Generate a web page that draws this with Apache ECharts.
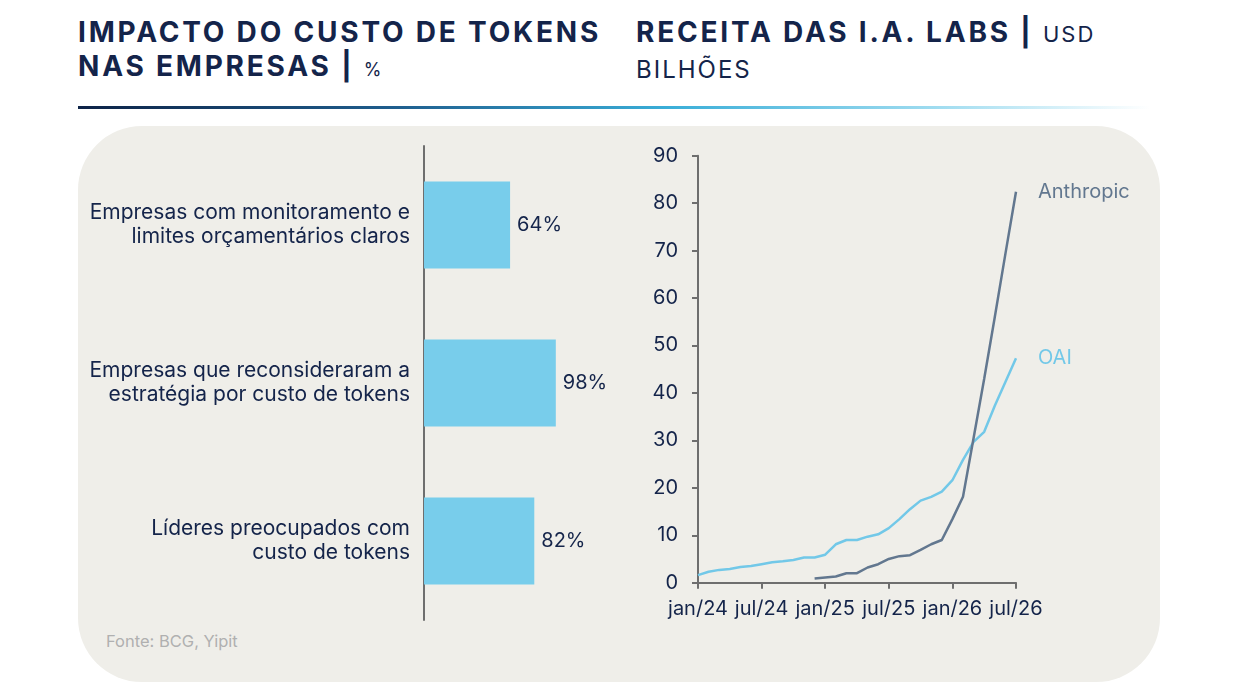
<!DOCTYPE html>
<html>
<head>
<meta charset="utf-8">
<script src="https://cdn.jsdelivr.net/npm/echarts@6/dist/echarts.min.js"></script>
<style>
  html, body { margin: 0; padding: 0; background: #ffffff; }
  body { width: 1240px; height: 685px; position: relative; overflow: hidden; font-family: Inter, 'Noto Sans', sans-serif; }
  .title { position: absolute; top: 15px; color: #14244a; font-size: 28px; line-height: 34px; font-weight: 700; letter-spacing: 2.8px; white-space: nowrap; }
  .title .pct { font-weight: 400; font-size: 18px; letter-spacing: 0; }
  .title .usd { font-weight: 400; font-size: 22px; letter-spacing: 2px; }
  .title .bil { font-weight: 400; font-size: 24px; letter-spacing: 2px; }
  .rule { position: absolute; left: 78px; top: 106px; width: 1072px; height: 3px;
          background: linear-gradient(to right, #0d2347 0%, #1f5f8f 30%, #3aaed8 55%, #9fdcf0 80%, rgba(255,255,255,0) 100%); }
  .panel { position: absolute; left: 78px; top: 126px; width: 1082px; height: 556px; background: #efeee9; border-radius: 64px; }
  .source { position: absolute; left: 106px; top: 631px; color: #b0b0b0; font-size: 16.5px; }
  #chart { position: absolute; left: 0; top: 0; width: 1240px; height: 685px; }
</style>
</head>
<body>
<div class="title" style="left:78px;">IMPACTO DO CUSTO DE TOKENS<br>NAS EMPRESAS | <span class="pct">%</span></div>
<div class="title" style="left:636px;">RECEITA DAS I.A. LABS | <span class="usd">USD</span><br><span class="bil">BILHÕES</span></div>
<div class="rule"></div>
<div class="panel"></div>
<div class="source">Fonte: BCG, Yipit</div>
<div id="chart"></div>
<script>
// gráfico de barras: impacto do custo de tokens (%)
const barCategories = [
    'Empresas com monitoramento e\nlimites orçamentários claros',
    'Empresas que reconsideraram a\nestratégia por custo de tokens',
    'Líderes preocupados com\ncusto de tokens'
];
const barValues = [64, 98, 82];

// gráfico de linhas: receita mensal (USD bilhões)
const months = [
    'jan/24', 'fev/24', 'mar/24', 'abr/24', 'mai/24', 'jun/24', 'jul/24', 'ago/24', 'set/24', 'out/24', 'nov/24', 'dez/24',
    'jan/25', 'fev/25', 'mar/25', 'abr/25', 'mai/25', 'jun/25', 'jul/25', 'ago/25', 'set/25', 'out/25', 'nov/25', 'dez/25',
    'jan/26', 'fev/26', 'mar/26', 'abr/26', 'mai/26', 'jun/26', 'jul/26'
];
const oaiValues = [
    1.6, 2.3, 2.7, 2.9, 3.3, 3.5, 3.9, 4.3, 4.5, 4.8, 5.3, 5.3,
    5.9, 8.1, 9.0, 9.0, 9.7, 10.2, 11.5, 13.4, 15.5, 17.3, 18.1, 19.2,
    21.6, 25.9, 29.7, 31.8, 37.3, 42.3, 47.3
];
const anthropicValues = [
    '-', '-', '-', '-', '-', '-', '-', '-', '-', '-', '-', 0.9,
    1.1, 1.3, 2.0, 2.0, 3.2, 3.9, 5.0, 5.6, 5.8, 6.9, 8.1, 9.0,
    13.4, 18.1, 30.5, 43.0, 56.0, 69.3, 82.4
];

const navy = '#14244a';
const axisGrey = '#6e6e6e';
const font = 'Inter';

const chart = echarts.init(document.getElementById('chart'));
chart.setOption({
    backgroundColor: 'transparent',
    animation: false,
    grid: [
        { left: 424, top: 146, width: 134.5, height: 474 },
        { left: 698, top: 155.7, width: 318, height: 427 }
    ],
    xAxis: [
        { gridIndex: 0, type: 'value', min: 0, max: 100, show: false },
        {
            gridIndex: 1, type: 'category', data: months, boundaryGap: false,
            axisLine: { lineStyle: { color: axisGrey, width: 2 } },
            axisTick: { interval: 5, length: 6, lineStyle: { color: axisGrey, width: 2 } },
            axisLabel: { interval: 5, color: navy, fontSize: 20, fontFamily: font, margin: 16 }
        }
    ],
    yAxis: [
        {
            gridIndex: 0, type: 'category', data: barCategories, inverse: true,
            axisLine: { lineStyle: { color: axisGrey, width: 2 } },
            axisTick: { show: false },
            axisLabel: { color: navy, fontSize: 21, fontFamily: font, lineHeight: 24, margin: 14, align: 'right' }
        },
        {
            gridIndex: 1, type: 'value', min: 0, max: 90, interval: 10,
            splitLine: { show: false },
            axisLine: { show: true, lineStyle: { color: axisGrey, width: 2 } },
            axisTick: { show: true, length: 6, lineStyle: { color: axisGrey, width: 2 } },
            axisLabel: { color: navy, fontSize: 20, fontFamily: font, margin: 20 }
        }
    ],
    series: [
        {
            type: 'bar', xAxisIndex: 0, yAxisIndex: 0, data: barValues,
            barWidth: 87,
            itemStyle: { color: '#78cdeb' },
            label: { show: true, position: 'right', distance: 7, formatter: '{c}%', color: navy, fontSize: 20, fontFamily: font }
        },
        {
            name: 'OAI', type: 'line', xAxisIndex: 1, yAxisIndex: 1, data: oaiValues,
            symbol: 'none', lineStyle: { color: '#72c8e8', width: 2.5 },
            endLabel: { show: true, formatter: '{a}', distance: 22, color: '#72c8e8', fontSize: 20, fontFamily: font }
        },
        {
            name: 'Anthropic', type: 'line', xAxisIndex: 1, yAxisIndex: 1, data: anthropicValues,
            symbol: 'none', lineStyle: { color: '#62778f', width: 2.5 },
            endLabel: { show: true, formatter: '{a}', distance: 22, color: '#62778f', fontSize: 20, fontFamily: font }
        }
    ]
});
</script>
</body>
</html>
